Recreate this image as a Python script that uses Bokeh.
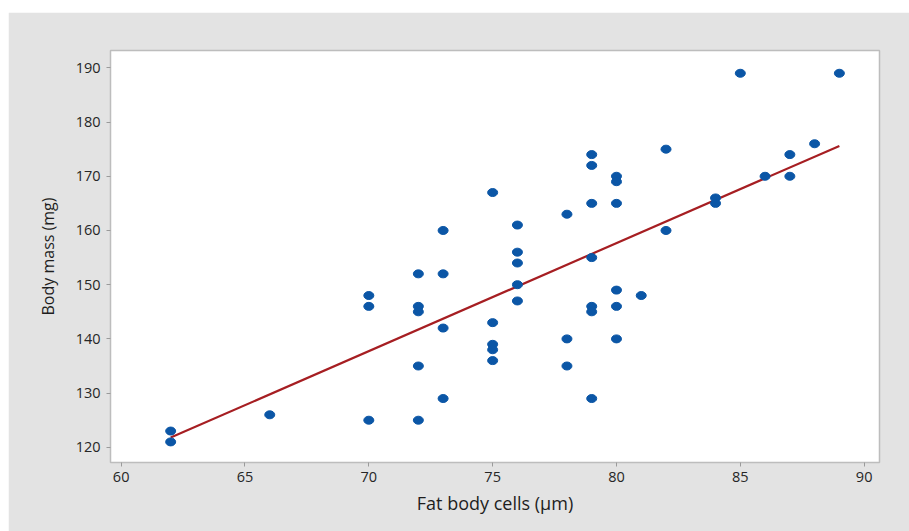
from bokeh.plotting import figure
from bokeh.models import Range1d, FixedTicker, ColumnDataSource
from bokeh.embed import file_html
from bokeh.resources import INLINE

# Data
fat_cells = [62, 62, 66, 70, 70, 70, 72, 72, 72, 72, 72, 73, 73, 73, 73,
             75, 75, 75, 75, 75, 76, 76, 76, 76, 76, 78, 78, 78,
             79, 79, 79, 79, 79, 79, 79, 80, 80, 80, 80, 80, 80, 81,
             82, 82, 84, 84, 85, 86, 87, 87, 88, 89]
body_mass = [123, 121, 126, 148, 146, 125, 152, 146, 145, 135, 125, 160, 152, 142, 129,
             167, 143, 139, 138, 136, 161, 156, 154, 150, 147, 163, 140, 135,
             174, 172, 165, 155, 146, 145, 129, 170, 169, 165, 149, 146, 140, 148,
             175, 160, 166, 165, 189, 170, 174, 170, 176, 189]
# Regression line as drawn in the reference (end points)
fit_x = [62, 89]
fit_y = [121.8, 175.6]
x_ticks = [60, 65, 70, 75, 80, 85, 90]
y_ticks = [120, 130, 140, 150, 160, 170, 180, 190]
x_label = "Fat body cells (µm)"
y_label = "Body mass (mg)"

src = ColumnDataSource(dict(x=fat_cells, y=body_mass))

p = figure(width=901, height=519, output_backend="svg", toolbar_location=None,
           x_range=Range1d(59.57, 90.62), y_range=Range1d(117.2, 193.2),
           min_border_left=102, min_border_right=30, min_border_top=38, min_border_bottom=69)
p.margin = (12, 0, 0, 8)

p.background_fill_color = "white"
p.border_fill_color = "#e3e3e3"
p.outline_line_color = "#bdbdbd"
p.outline_line_width = 1.5
p.xgrid.visible = False
p.ygrid.visible = False

for ax in (p.xaxis, p.yaxis):
    ax.axis_line_color = None
    ax.major_tick_line_color = "#9a9a9a"
    ax.major_tick_out = 4
    ax.major_tick_in = 0
    ax.minor_tick_line_color = None
    ax.major_label_text_font = "Open Sans"
    ax.major_label_text_font_size = "14.5px"
    ax.major_label_text_color = "#262626"
    ax.axis_label_text_font = "Open Sans"
    ax.axis_label_text_font_style = "normal"
    ax.axis_label_text_color = "#1e1e1e"

p.xaxis.ticker = FixedTicker(ticks=x_ticks)
p.yaxis.ticker = FixedTicker(ticks=y_ticks)
p.xaxis.axis_label = x_label
p.yaxis.axis_label = y_label
p.xaxis.axis_label_text_font_size = "18px"
p.yaxis.axis_label_text_font_size = "16px"
p.xaxis.major_label_standoff = 5
p.yaxis.major_label_standoff = 6
p.xaxis.axis_label_standoff = 6
p.yaxis.axis_label_standoff = 14

p.line(fit_x, fit_y, line_color="#a61e22", line_width=2.2)
p.ellipse(x="x", y="y", width=10, height=8, width_units="screen", height_units="screen",
          fill_color="#0b56a6", line_color="#0b56a6", source=src)

open("out.html", "w").write(file_html(p, INLINE))
